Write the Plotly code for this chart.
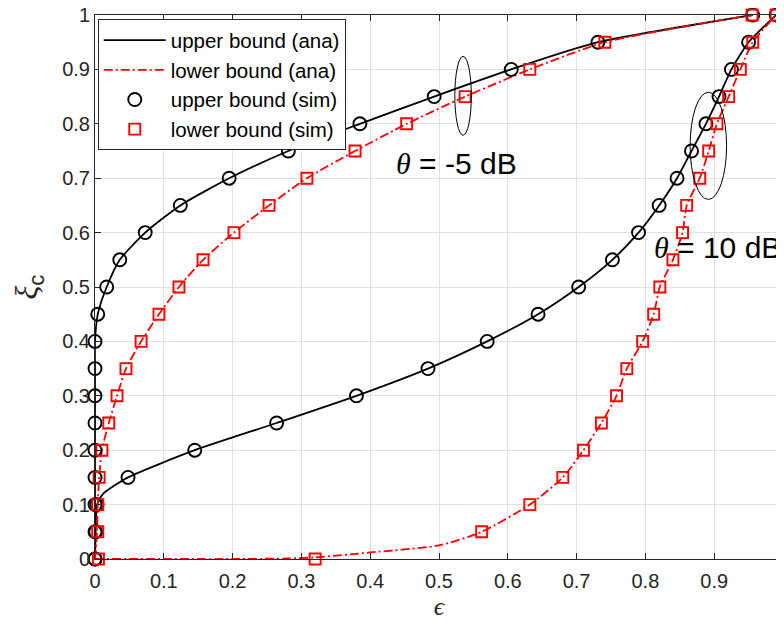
import plotly.graph_objects as go

# ---------------- data ----------------
xi_levels = [0.0, 0.05, 0.1, 0.15, 0.2, 0.25, 0.3, 0.35, 0.4, 0.45, 0.5,
             0.55, 0.6, 0.65, 0.7, 0.75, 0.8, 0.85, 0.9, 0.95, 1.0]

# theta = -5 dB, simulated
eps_upper_m5 = [0.0, 0.0, 0.0, 0.0, 0.0, 0.0, 0.0, 0.0, 0.0, 0.004, 0.017,
                0.036, 0.073, 0.124, 0.195, 0.281, 0.385, 0.493, 0.605, 0.731, 0.956]
eps_lower_m5 = [0.005, 0.004, 0.004, 0.006, 0.01, 0.02, 0.032, 0.045, 0.067, 0.093, 0.122,
                0.157, 0.202, 0.253, 0.308, 0.378, 0.453, 0.538, 0.632, 0.741, 0.955]
# theta = 10 dB, simulated
eps_upper_10 = [0.0, 0.001, 0.003, 0.048, 0.145, 0.264, 0.38, 0.484, 0.57, 0.644, 0.703,
                0.752, 0.79, 0.82, 0.846, 0.867, 0.888, 0.907, 0.925, 0.95, 0.99]
eps_lower_10 = [0.32, 0.562, 0.632, 0.68, 0.71, 0.736, 0.758, 0.773, 0.796, 0.812, 0.821,
                0.84, 0.854, 0.86, 0.879, 0.892, 0.904, 0.921, 0.938, 0.956, 0.99]

# analytical curves
ana_up_m5_eps = eps_upper_m5
ana_up_m5_xi = xi_levels
ana_lo_m5_eps = [0.0, 0.003, 0.004, 0.006, 0.01, 0.02, 0.032, 0.045, 0.067, 0.093, 0.122,
                 0.157, 0.202, 0.253, 0.308, 0.378, 0.453, 0.538, 0.632, 0.741, 0.955]
ana_lo_m5_xi = xi_levels
ana_up_10_eps = [0.0, 0.001, 0.003, 0.012, 0.048, 0.145, 0.264, 0.38, 0.484, 0.57, 0.644,
                 0.703, 0.752, 0.79, 0.82, 0.846, 0.867, 0.888, 0.907, 0.925, 0.95, 0.99]
ana_up_10_xi = [0.0, 0.05, 0.1, 0.12, 0.15, 0.2, 0.25, 0.3, 0.35, 0.4, 0.45,
                0.5, 0.55, 0.6, 0.65, 0.7, 0.75, 0.8, 0.85, 0.9, 0.95, 1.0]
ana_lo_10_eps = [0.0, 0.1, 0.2, 0.28, 0.32, 0.4, 0.5, 0.562, 0.632, 0.68, 0.71, 0.736,
                 0.758, 0.773, 0.796, 0.812, 0.821, 0.84, 0.854, 0.86, 0.879, 0.892,
                 0.904, 0.921, 0.938, 0.956, 0.99]
ana_lo_10_xi = [0.0, 0.0, 0.0, 0.001, 0.003, 0.012, 0.025, 0.05, 0.1, 0.15, 0.2, 0.25,
                0.3, 0.35, 0.4, 0.45, 0.5, 0.55, 0.6, 0.65, 0.7, 0.75,
                0.8, 0.85, 0.9, 0.95, 1.0]

tick_vals = [0, 0.1, 0.2, 0.3, 0.4, 0.5, 0.6, 0.7, 0.8, 0.9, 1]
tick_text = ["0", "0.1", "0.2", "0.3", "0.4", "0.5", "0.6", "0.7", "0.8", "0.9", "1"]

# ---------------- figure ----------------
BLACK = "#000000"
RED = "#ff0000"
AX = "#262626"
SANS = "Liberation Sans, Arial, sans-serif"
SERIF = "Liberation Serif, Times New Roman, serif"
DASHDOT = "9px,3px,2px,3px"

fig = go.Figure()

def ana(x, y, color, dash, name, show, rank):
    fig.add_trace(go.Scatter(
        x=x, y=y, mode="lines", name=name, showlegend=show, legendrank=rank,
        line=dict(color=color, width=1.8, dash=dash, shape="spline", smoothing=0.6),
        hoverinfo="skip"))

def sim(x, y, color, symbol, size, name, show, rank):
    fig.add_trace(go.Scatter(
        x=x, y=y, mode="markers", name=name, showlegend=show, legendrank=rank,
        cliponaxis=False,
        marker=dict(symbol=symbol, size=size, color=color, line=dict(color=color, width=1.9))))

ana(ana_up_m5_eps, ana_up_m5_xi, BLACK, "solid", "upper bound (ana)", True, 1)
ana(ana_up_10_eps, ana_up_10_xi, BLACK, "solid", "upper bound (ana)", False, 10)
ana(ana_lo_m5_eps, ana_lo_m5_xi, RED, DASHDOT, "lower bound (ana)", True, 2)
ana(ana_lo_10_eps, ana_lo_10_xi, RED, DASHDOT, "lower bound (ana)", False, 11)
sim(eps_upper_m5, xi_levels, BLACK, "circle-open", 13, "upper bound (sim)", True, 3)
sim(eps_upper_10, xi_levels, BLACK, "circle-open", 13, "upper bound (sim)", False, 12)
sim(eps_lower_m5, xi_levels, RED, "square-open", 11, "lower bound (sim)", True, 4)
sim(eps_lower_10, xi_levels, RED, "square-open", 11, "lower bound (sim)", False, 13)

axis_common = dict(
    range=[0, 1], tickmode="array", tickvals=tick_vals, ticktext=tick_text,
    showgrid=True, gridcolor="rgb(225,225,225)", gridwidth=1,
    showline=True, linecolor=AX, linewidth=1, mirror="ticks",
    ticks="inside", ticklen=6, tickcolor=AX, tickwidth=1,
    tickfont=dict(family=SANS, size=20, color=AX),
    ticklabeloverflow="allow",
    zeroline=False, fixedrange=True,
)

# the page body has an 8px margin, so the figure is sized 8px smaller
fig.update_layout(
    width=776, height=617,
    margin=dict(l=87, r=1, t=7, b=65.5, autoexpand=False),
    paper_bgcolor="white", plot_bgcolor="white",
    xaxis=dict(**axis_common, ticklabelstandoff=4,
               title=dict(text="<i>ϵ</i>", font=dict(family=SERIF, size=26, color=AX), standoff=5)),
    yaxis=dict(**axis_common,
               title=dict(text='<span style="font-family:Liberation Serif"><i>ξ</i></span><sub>c</sub>',
                          font=dict(family=SANS, size=32, color=AX), standoff=22)),
    legend=dict(x=0.004, y=0.992, xanchor="left", yanchor="top",
                bgcolor="white", bordercolor=AX, borderwidth=1,
                font=dict(family=SANS, size=20.5, color=BLACK),
                itemwidth=62, tracegroupgap=0),
    showlegend=True,
    shapes=[
        dict(type="circle", xref="x", yref="y", x0=0.523, x1=0.547, y0=0.779, y1=0.924,
             line=dict(color=BLACK, width=1)),
        dict(type="circle", xref="x", yref="y", x0=0.865, x1=0.918, y0=0.661, y1=0.858,
             line=dict(color=BLACK, width=1)),
    ],
    annotations=[
        dict(x=0.526, y=0.727, xref="x", yref="y", showarrow=False,
             text='<span style="font-family:Liberation Serif"><i>θ</i></span> = -5 dB',
             font=dict(family=SANS, size=30, color=BLACK)),
        dict(x=0.905, y=0.573, xref="x", yref="y", showarrow=False,
             text='<span style="font-family:Liberation Serif"><i>θ</i></span> = 10 dB',
             font=dict(family=SANS, size=30, color=BLACK)),
    ],
)

fig.write_html("out.html")
